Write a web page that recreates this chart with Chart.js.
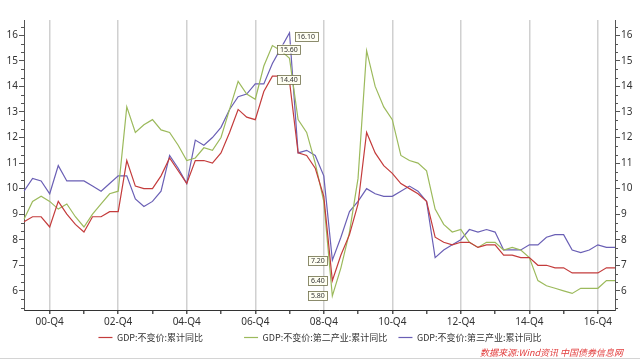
<!DOCTYPE html>
<html>
<head>
<meta charset="utf-8">
<script src="https://cdn.jsdelivr.net/npm/chart.js@4"></script>
<style>
  html, body { margin: 0; padding: 0; background: #fff; }
  #wrap { position: relative; width: 640px; height: 358px; border-bottom: 1px solid #d4d4d4; }
  #source {
    position: absolute; right: 17px; top: 346px;
    font: italic 9px "Noto Sans CJK SC", sans-serif; color: #e23b3b;
  }
</style>
</head>
<body>
<div id="wrap">
  <canvas id="chart" width="640" height="358"></canvas>
  <div id="source">数据来源:Wind资讯 中国债券信息网</div>
</div>
<script>
// quarters 00-Q1 .. 17-Q2
const quarters = [];
for (let y = 0; y <= 17; y++) {
  for (let q = 1; q <= 4; q++) {
    if (y === 17 && q > 2) break;
    quarters.push(String(y).padStart(2, "0") + "-Q" + q);
  }
}
const tickLabels = ["00-Q4", "02-Q4", "04-Q4", "06-Q4", "08-Q4", "10-Q4", "12-Q4", "14-Q4", "16-Q4"];
const yTicks = [6, 7, 8, 9, 10, 11, 12, 13, 14, 15, 16];

const seriesNames = ["GDP:不变价:累计同比", "GDP:不变价:第二产业:累计同比", "GDP:不变价:第三产业:累计同比"];

const gdpTotal = [
  8.7, 8.9, 8.9, 8.5, 9.5, 9.0, 8.6, 8.3, 8.9, 8.9,
  9.1, 9.1, 11.1, 10.1, 10.0, 10.0, 10.5, 11.2, 10.7, 10.2,
  11.1, 11.1, 11.0, 11.4, 12.2, 13.1, 12.8, 12.7, 13.8, 14.4,
  14.4, 14.2, 11.4, 11.3, 10.8, 9.7, 6.4, 7.4, 8.2, 9.4,
  12.2, 11.4, 10.9, 10.6, 10.2, 10.0, 9.8, 9.5, 8.1, 7.9,
  7.8, 7.9, 7.9, 7.7, 7.8, 7.8, 7.4, 7.4, 7.3, 7.3,
  7.0, 7.0, 6.9, 6.9, 6.7, 6.7, 6.7, 6.7, 6.9, 6.9
];
const gdpSecondary = [
  8.8, 9.5, 9.7, 9.5, 9.2, 9.4, 8.9, 8.5, 9.0, 9.4,
  9.8, 9.9, 13.2, 12.2, 12.5, 12.7, 12.3, 12.2, 11.7, 11.1,
  11.2, 11.6, 11.5, 12.0, 13.1, 14.2, 13.7, 13.5, 14.8, 15.6,
  15.4, 15.1, 12.7, 12.2, 11.0, 9.5, 5.8, 6.9, 8.3, 10.4,
  15.4, 14.0, 13.2, 12.7, 11.3, 11.1, 11.0, 10.7, 9.2, 8.6,
  8.3, 8.4, 7.9, 7.7, 7.9, 7.9, 7.6, 7.7, 7.6, 7.3,
  6.4, 6.2, 6.1, 6.0, 5.9, 6.1, 6.1, 6.1, 6.4, 6.4
];
const gdpTertiary = [
  9.9, 10.4, 10.3, 9.8, 10.9, 10.3, 10.3, 10.3, 10.1, 9.9,
  10.2, 10.5, 10.5, 9.6, 9.3, 9.5, 9.9, 11.3, 10.8, 10.2,
  11.9, 11.7, 12.0, 12.4, 13.1, 13.6, 13.7, 14.1, 14.1, 14.9,
  15.5, 16.1, 11.4, 11.5, 11.3, 10.5, 7.2, 8.1, 9.1, 9.5,
  10.0, 9.8, 9.7, 9.7, 9.9, 10.1, 9.9, 9.5, 7.3, 7.6,
  7.8, 8.0, 8.4, 8.3, 8.4, 8.3, 7.6, 7.6, 7.6, 7.8,
  7.8, 8.1, 8.2, 8.2, 7.6, 7.5, 7.6, 7.8, 7.7, 7.7
];

// labelled points: [series, quarter index, side]
const callouts = [[2, 31, "right"], [1, 29, "right"], [0, 29, "right"], [2, 36, "left"], [0, 36, "left"], [1, 36, "left"]];

const colors = ["#c43c3c", "#9cba5c", "#6a5fb5"];
const tickFont = { family: "'Noto Sans', sans-serif", size: 10 };
const cjkFont = "'Noto Sans CJK SC', sans-serif";
const legendGaps = ["\u3000\u3000\u3000\u2002\u2002", "\u2002\u2009", ""];

const minorTicks = {
  id: "minorTicks",
  afterDraw(chart) {
    const ctx = chart.ctx;
    ctx.save();
    ctx.strokeStyle = "#555";
    ctx.lineWidth = 1;
    ctx.beginPath();
    for (const id of ["y", "y2"]) {
      const s = chart.scales[id];
      const edge = id === "y" ? s.right : s.left;
      const dir = id === "y" ? -1 : 1;
      for (let k = 16; k <= 49; k++) {
        if (k % 3 === 0) continue;
        const py = Math.round(s.getPixelForValue(k / 3)) + 0.5;
        ctx.moveTo(edge, py);
        ctx.lineTo(edge + dir * 3, py);
      }
    }
    ctx.stroke();
    ctx.restore();
  }
};

const calloutPlugin = {
  id: "callouts",
  afterDatasetsDraw(chart) {
    const ctx = chart.ctx;
    ctx.save();
    ctx.font = "7px 'Noto Sans', sans-serif";
    ctx.textBaseline = "middle";
    callouts.forEach(([si, idx, side]) => {
      const p = chart.getDatasetMeta(si).data[idx];
      const text = chart.data.datasets[si].data[idx].toFixed(2);
      const w = ctx.measureText(text).width + 5;
      const h = 9;
      const bx = side === "right" ? p.x + 5 : p.x - 5 - w;
      const by = (side === "right" ? p.y + 3.5 : p.y) - h / 2;
      ctx.fillStyle = "#fffff2";
      ctx.fillRect(bx, by, w, h);
      ctx.strokeStyle = "#6f6f4a";
      ctx.lineWidth = 0.8;
      ctx.strokeRect(Math.round(bx) + 0.5, Math.round(by) + 0.5, Math.round(w), h);
      ctx.fillStyle = "#333";
      ctx.fillText(text, bx + 2.5, by + h / 2 + 0.5);
    });
    ctx.restore();
  }
};

const yAxis = (position, width) => ({
  position,
  min: 5.25,
  max: 16.6,
  afterBuildTicks: s => { s.ticks = yTicks.map(v => ({ value: v })); },
  grid: { drawOnChartArea: false, tickLength: 5, color: "#555" },
  border: { color: "#555" },
  ticks: { font: tickFont, color: "#333", padding: 1 },
  afterFit: s => { s.width = width; }
});

new Chart(document.getElementById("chart"), {
  type: "line",
  data: {
    labels: quarters,
    datasets: [gdpTotal, gdpSecondary, gdpTertiary].map((d, i) => ({
      label: seriesNames[i],
      data: d,
      borderColor: colors[i],
      backgroundColor: colors[i],
      borderWidth: 1.2,
      pointRadius: 0,
      tension: 0,
      yAxisID: "y"
    }))
  },
  options: {
    responsive: false,
    animation: false,
    layout: { padding: { top: 20, bottom: 6, left: 0, right: 0 } },
    scales: {
      x: {
        type: "category",
        offset: false,
        border: { color: "#333" },
        grid: {
          color: c => tickLabels.includes(quarters[c.index]) ? "#d0d0d0" : "transparent",
          lineWidth: 1.5,
          tickColor: c => (quarters[c.index] || "").endsWith("Q4") ? "#555" : "transparent",
          tickLength: 4
        },
        ticks: {
          autoSkip: false,
          maxRotation: 0,
          minRotation: 0,
          padding: 2,
          font: tickFont,
          color: "#333",
          callback: (v, i) => tickLabels.includes(quarters[i]) ? quarters[i] : ""
        },
        afterFit: s => { s.height = 18; }
      },
      y: yAxis("left", 24),
      y2: yAxis("right", 25)
    },
    plugins: {
      legend: {
        position: "bottom",
        labels: {
          usePointStyle: true,
          pointStyle: "line",
          pointStyleWidth: 14,
          padding: 5,
          color: "#333",
          font: { family: cjkFont, size: 9 },
          generateLabels: chart => Chart.defaults.plugins.legend.labels.generateLabels(chart)
            .map((l, i) => Object.assign(l, { text: l.text + legendGaps[i] }))
        }
      },
      tooltip: { enabled: false }
    }
  },
  plugins: [minorTicks, calloutPlugin]
});
</script>
</body>
</html>
